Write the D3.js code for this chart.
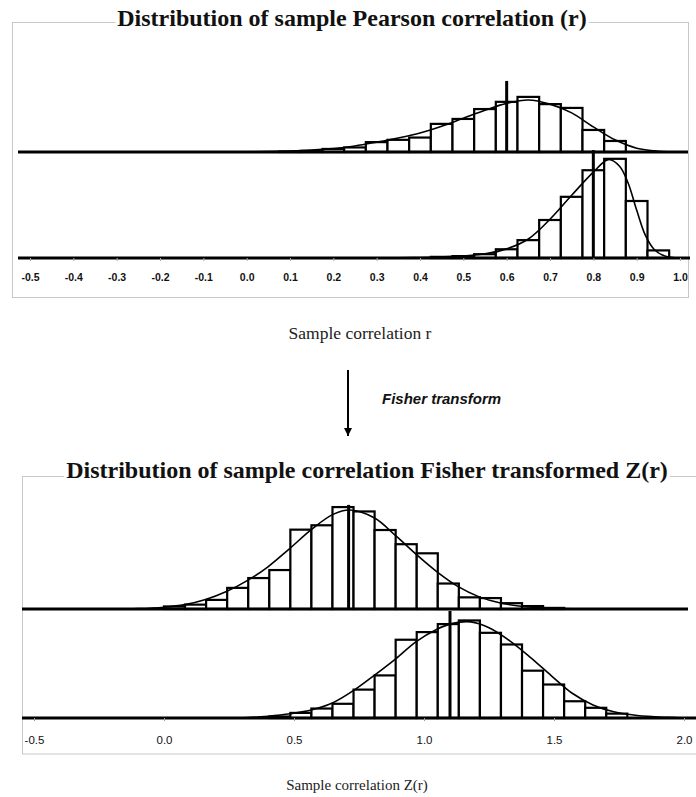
<!DOCTYPE html>
<html>
<head>
<meta charset="utf-8">
<script src="https://cdn.jsdelivr.net/npm/d3@7"></script>
<style>
  body { margin: 0; background: #fff; }
  svg { display: block; }
</style>
</head>
<body>
<div id="chart"></div>
<script>
// r histograms: bin centres (width 0.05) and % of samples per bin
const rBinWidth = 0.05
const rTopBins = [0.10, 0.15, 0.20, 0.25, 0.30, 0.35, 0.40, 0.45, 0.50, 0.55, 0.60, 0.65, 0.70, 0.75, 0.80, 0.85]
const rTopFreq = [0.1, 0.3, 0.8, 1.2, 2.6, 3.2, 3.8, 7.4, 8.7, 11.3, 13.2, 14.5, 12.6, 11.6, 5.8, 2.9]
const rBotBins = [0.45, 0.50, 0.55, 0.60, 0.65, 0.70, 0.75, 0.80, 0.85, 0.90, 0.95]
const rBotFreq = [0.3, 0.5, 1.0, 2.3, 4.7, 10.0, 16.1, 23.1, 26.1, 15.0, 2.0]

// fitted density curves for r, [r, %]
const rTopCurve = [[-0.05, 0], [0.0, 0.05], [0.05, 0.1], [0.10, 0.25], [0.15, 0.5], [0.20, 0.9], [0.25, 1.6],
  [0.30, 2.6], [0.35, 3.7], [0.40, 5.0], [0.45, 6.8], [0.50, 8.9], [0.55, 11.0], [0.60, 12.8], [0.65, 13.7],
  [0.70, 12.6], [0.75, 10.3], [0.80, 6.6], [0.85, 3.2], [0.90, 1.0], [0.95, 0.2], [1.0, 0]]
const rBotCurve = [[0.25, 0], [0.35, 0.05], [0.40, 0.12], [0.45, 0.28], [0.50, 0.55], [0.55, 1.1], [0.60, 2.4],
  [0.65, 5.0], [0.70, 10.2], [0.75, 16.5], [0.80, 22.6], [0.835, 25.9], [0.86, 24.2], [0.88, 19.8],
  [0.90, 12.6], [0.92, 6.0], [0.94, 2.3], [0.965, 0.5], [1.0, 0]]

// Z(r) histograms: bin starts (width 0.081) and % of samples per bin
const zBinWidth = 0.081
const zTopBins = [0, 0.081, 0.162, 0.243, 0.324, 0.405, 0.486, 0.567, 0.648, 0.729, 0.810, 0.891, 0.972,
  1.053, 1.134, 1.215, 1.296, 1.377, 1.458]
const zTopFreq = [0.35, 0.6, 1.25, 2.9, 4.25, 5.35, 10.9, 11.5, 14.0, 13.4, 10.85, 8.9, 7.65, 3.5, 1.6, 1.5, 0.8, 0.4, 0.15]
const zBotBins = [0.405, 0.486, 0.567, 0.648, 0.729, 0.810, 0.891, 0.972, 1.053, 1.134, 1.215, 1.296, 1.377,
  1.458, 1.539, 1.620, 1.701]
const zBotFreq = [0.2, 0.7, 1.3, 1.95, 3.9, 5.85, 10.75, 11.8, 12.9, 13.4, 11.7, 10.1, 6.5, 4.6, 2.3, 1.4, 0.6]

const zTopCurve = [[-0.2, 0], [-0.1, 0.05], [0.0, 0.25], [0.08, 0.6], [0.16, 1.3], [0.24, 2.4], [0.32, 3.9],
  [0.40, 5.8], [0.48, 8.2], [0.57, 11.0], [0.65, 13.0], [0.715, 13.6], [0.81, 12.5], [0.89, 10.1], [0.97, 7.5],
  [1.05, 5.1], [1.13, 3.1], [1.21, 1.7], [1.29, 0.85], [1.38, 0.35], [1.5, 0.08], [1.6, 0]]
const zBotCurve = [[0.25, 0], [0.32, 0.05], [0.40, 0.25], [0.485, 0.59], [0.57, 1.14], [0.65, 2.1], [0.73, 3.8],
  [0.81, 5.9], [0.89, 8.1], [0.97, 10.5], [1.05, 12.2], [1.11, 13.0], [1.18, 13.2], [1.25, 12.4],
  [1.33, 10.6], [1.41, 8.3], [1.49, 5.8], [1.57, 3.4], [1.65, 1.8], [1.73, 0.85], [1.82, 0.35], [1.94, 0.08], [2.0, 0]]

// sample means and the height of their marker line (%)
const rMeans = [0.6, 0.8]
const rMeanHeights = [18.7, 28.4]
const zMeans = [0.71, 1.10]
const zMeanHeights = [14.3, 14.7]

const rTicks = [-0.5, -0.4, -0.3, -0.2, -0.1, 0.0, 0.1, 0.2, 0.3, 0.4, 0.5, 0.6, 0.7, 0.8, 0.9, 1.0]
const zTicks = [-0.5, 0.0, 0.5, 1.0, 1.5, 2.0]

const width = 696
const height = 797

const svg = d3.select('#chart').append('svg')
  .attr('width', width).attr('height', height)

const xR = d3.scaleLinear().domain([-0.5, 1.0]).range([30, 680])
const xZ = d3.scaleLinear().domain([-0.5, 2.0]).range([34, 684])
const yR = d3.scaleLinear().domain([0, 10]).range([0, 38])
const yZ = d3.scaleLinear().domain([0, 10]).range([0, 72.8])

/** 一个直方图 + 拟合曲线 + 均值线 */
function drawPanel(g, x, y, baseline, starts, binWidth, freq, curve, mean, meanHeight, lineEnd) {
  g.append('g').selectAll('rect')
    .data(starts.map((s, i) => ({ s, v: freq[i] })))
    .join('rect')
    .attr('x', d => x(d.s))
    .attr('width', d => x(d.s + binWidth) - x(d.s))
    .attr('y', d => baseline - y(d.v))
    .attr('height', d => y(d.v))
    .attr('fill', '#fff')
    .attr('stroke', '#000')
    .attr('stroke-width', 2.2)

  const line = d3.line()
    .x(d => x(d[0]))
    .y(d => baseline - y(d[1]))
    .curve(d3.curveCatmullRom.alpha(0.5))
  g.append('path')
    .attr('d', line(curve))
    .attr('fill', 'none')
    .attr('stroke', '#000')
    .attr('stroke-width', 1.6)

  g.append('line')
    .attr('x1', lineEnd[0]).attr('x2', lineEnd[1])
    .attr('y1', baseline).attr('y2', baseline)
    .attr('stroke', '#000')
    .attr('stroke-width', 2.8)

  g.append('line')
    .attr('x1', x(mean)).attr('x2', x(mean))
    .attr('y1', baseline).attr('y2', baseline - y(meanHeight))
    .attr('stroke', '#000')
    .attr('stroke-width', 3)
}

function title(text, cx, cy) {
  const t = svg.append('text')
    .attr('x', cx).attr('y', cy)
    .attr('text-anchor', 'middle')
    .attr('font-family', '"Liberation Serif", "Times New Roman", serif')
    .attr('font-weight', 'bold')
    .attr('font-size', 24)
    .attr('fill', '#111')
    .text(text)
  const b = t.node().getBBox()
  svg.insert('rect', () => t.node())
    .attr('x', b.x - 2).attr('y', b.y)
    .attr('width', b.width + 4).attr('height', b.height)
    .attr('fill', '#fff')
}

// ---- r chart ----
svg.append('rect')
  .attr('x', 12.5).attr('y', 22.5).attr('width', 676).attr('height', 275)
  .attr('fill', 'none').attr('stroke', '#c8c8c8')

const rTop = svg.append('g')
drawPanel(rTop, xR, yR, 152, rTopBins.map(c => c - rBinWidth / 2), rBinWidth, rTopFreq, rTopCurve,
  rMeans[0], rMeanHeights[0], [18, 688])
const rBot = svg.append('g')
drawPanel(rBot, xR, yR, 258, rBotBins.map(c => c - rBinWidth / 2), rBinWidth, rBotFreq, rBotCurve,
  rMeans[1], rMeanHeights[1], [18, 690])

const rAxis = svg.append('g')
  .attr('transform', 'translate(0, 258)')
  .call(d3.axisBottom(xR).tickValues(rTicks).tickSize(3).tickPadding(13).tickFormat(d => d.toFixed(1)))
rAxis.select('.domain').remove()
rAxis.selectAll('line').attr('stroke', '#aaa')
rAxis.selectAll('text')
  .attr('font-family', '"Liberation Sans", Arial, sans-serif')
  .attr('font-weight', 'bold')
  .attr('font-size', 10.5)
  .attr('fill', '#111')

title('Distribution of sample Pearson correlation (r)', 352, 26)

svg.append('text')
  .attr('x', 360).attr('y', 339)
  .attr('text-anchor', 'middle')
  .attr('font-family', '"Liberation Serif", "Times New Roman", serif')
  .attr('font-size', 17.5)
  .attr('fill', '#222')
  .text('Sample correlation r')

// ---- Fisher arrow ----
svg.append('defs').append('marker')
  .attr('id', 'head')
  .attr('viewBox', '0 0 10 10')
  .attr('refX', 10).attr('refY', 5)
  .attr('markerWidth', 4).attr('markerHeight', 5)
  .attr('markerUnits', 'strokeWidth')
  .attr('orient', 'auto')
  .append('path').attr('d', 'M0,0L10,5L0,10Z').attr('fill', '#000')
svg.append('line')
  .attr('x1', 348).attr('x2', 348).attr('y1', 370).attr('y2', 436)
  .attr('stroke', '#000').attr('stroke-width', 2)
  .attr('marker-end', 'url(#head)')
svg.append('text')
  .attr('x', 382).attr('y', 404)
  .attr('font-family', '"Liberation Sans", Arial, sans-serif')
  .attr('font-weight', 'bold')
  .attr('font-style', 'italic')
  .attr('font-size', 15)
  .attr('fill', '#111')
  .text('Fisher transform')

// ---- Z(r) chart ----
svg.append('rect')
  .attr('x', 22.5).attr('y', 476.5).attr('width', 700).attr('height', 277.5)
  .attr('fill', 'none').attr('stroke', '#c8c8c8')

const zTop = svg.append('g')
drawPanel(zTop, xZ, yZ, 609, zTopBins, zBinWidth, zTopFreq, zTopCurve, zMeans[0], zMeanHeights[0], [22, 688])
const zBot = svg.append('g')
drawPanel(zBot, xZ, yZ, 718, zBotBins, zBinWidth, zBotFreq, zBotCurve, zMeans[1], zMeanHeights[1], [22, 696])

const zAxis = svg.append('g')
  .attr('transform', 'translate(0, 718)')
  .call(d3.axisBottom(xZ).tickValues(zTicks).tickSize(3).tickPadding(15).tickFormat(d => d.toFixed(1)))
zAxis.select('.domain').remove()
zAxis.selectAll('line').attr('stroke', '#999')
zAxis.selectAll('text')
  .attr('font-family', '"Liberation Sans", Arial, sans-serif')
  .attr('font-size', 11.5)
  .attr('fill', '#111')

title('Distribution of sample correlation Fisher transformed Z(r)', 367, 478)

svg.append('text')
  .attr('x', 357).attr('y', 790)
  .attr('text-anchor', 'middle')
  .attr('font-family', '"Liberation Serif", "Times New Roman", serif')
  .attr('font-size', 15)
  .attr('fill', '#222')
  .text('Sample correlation Z(r)')
</script>
</body>
</html>
